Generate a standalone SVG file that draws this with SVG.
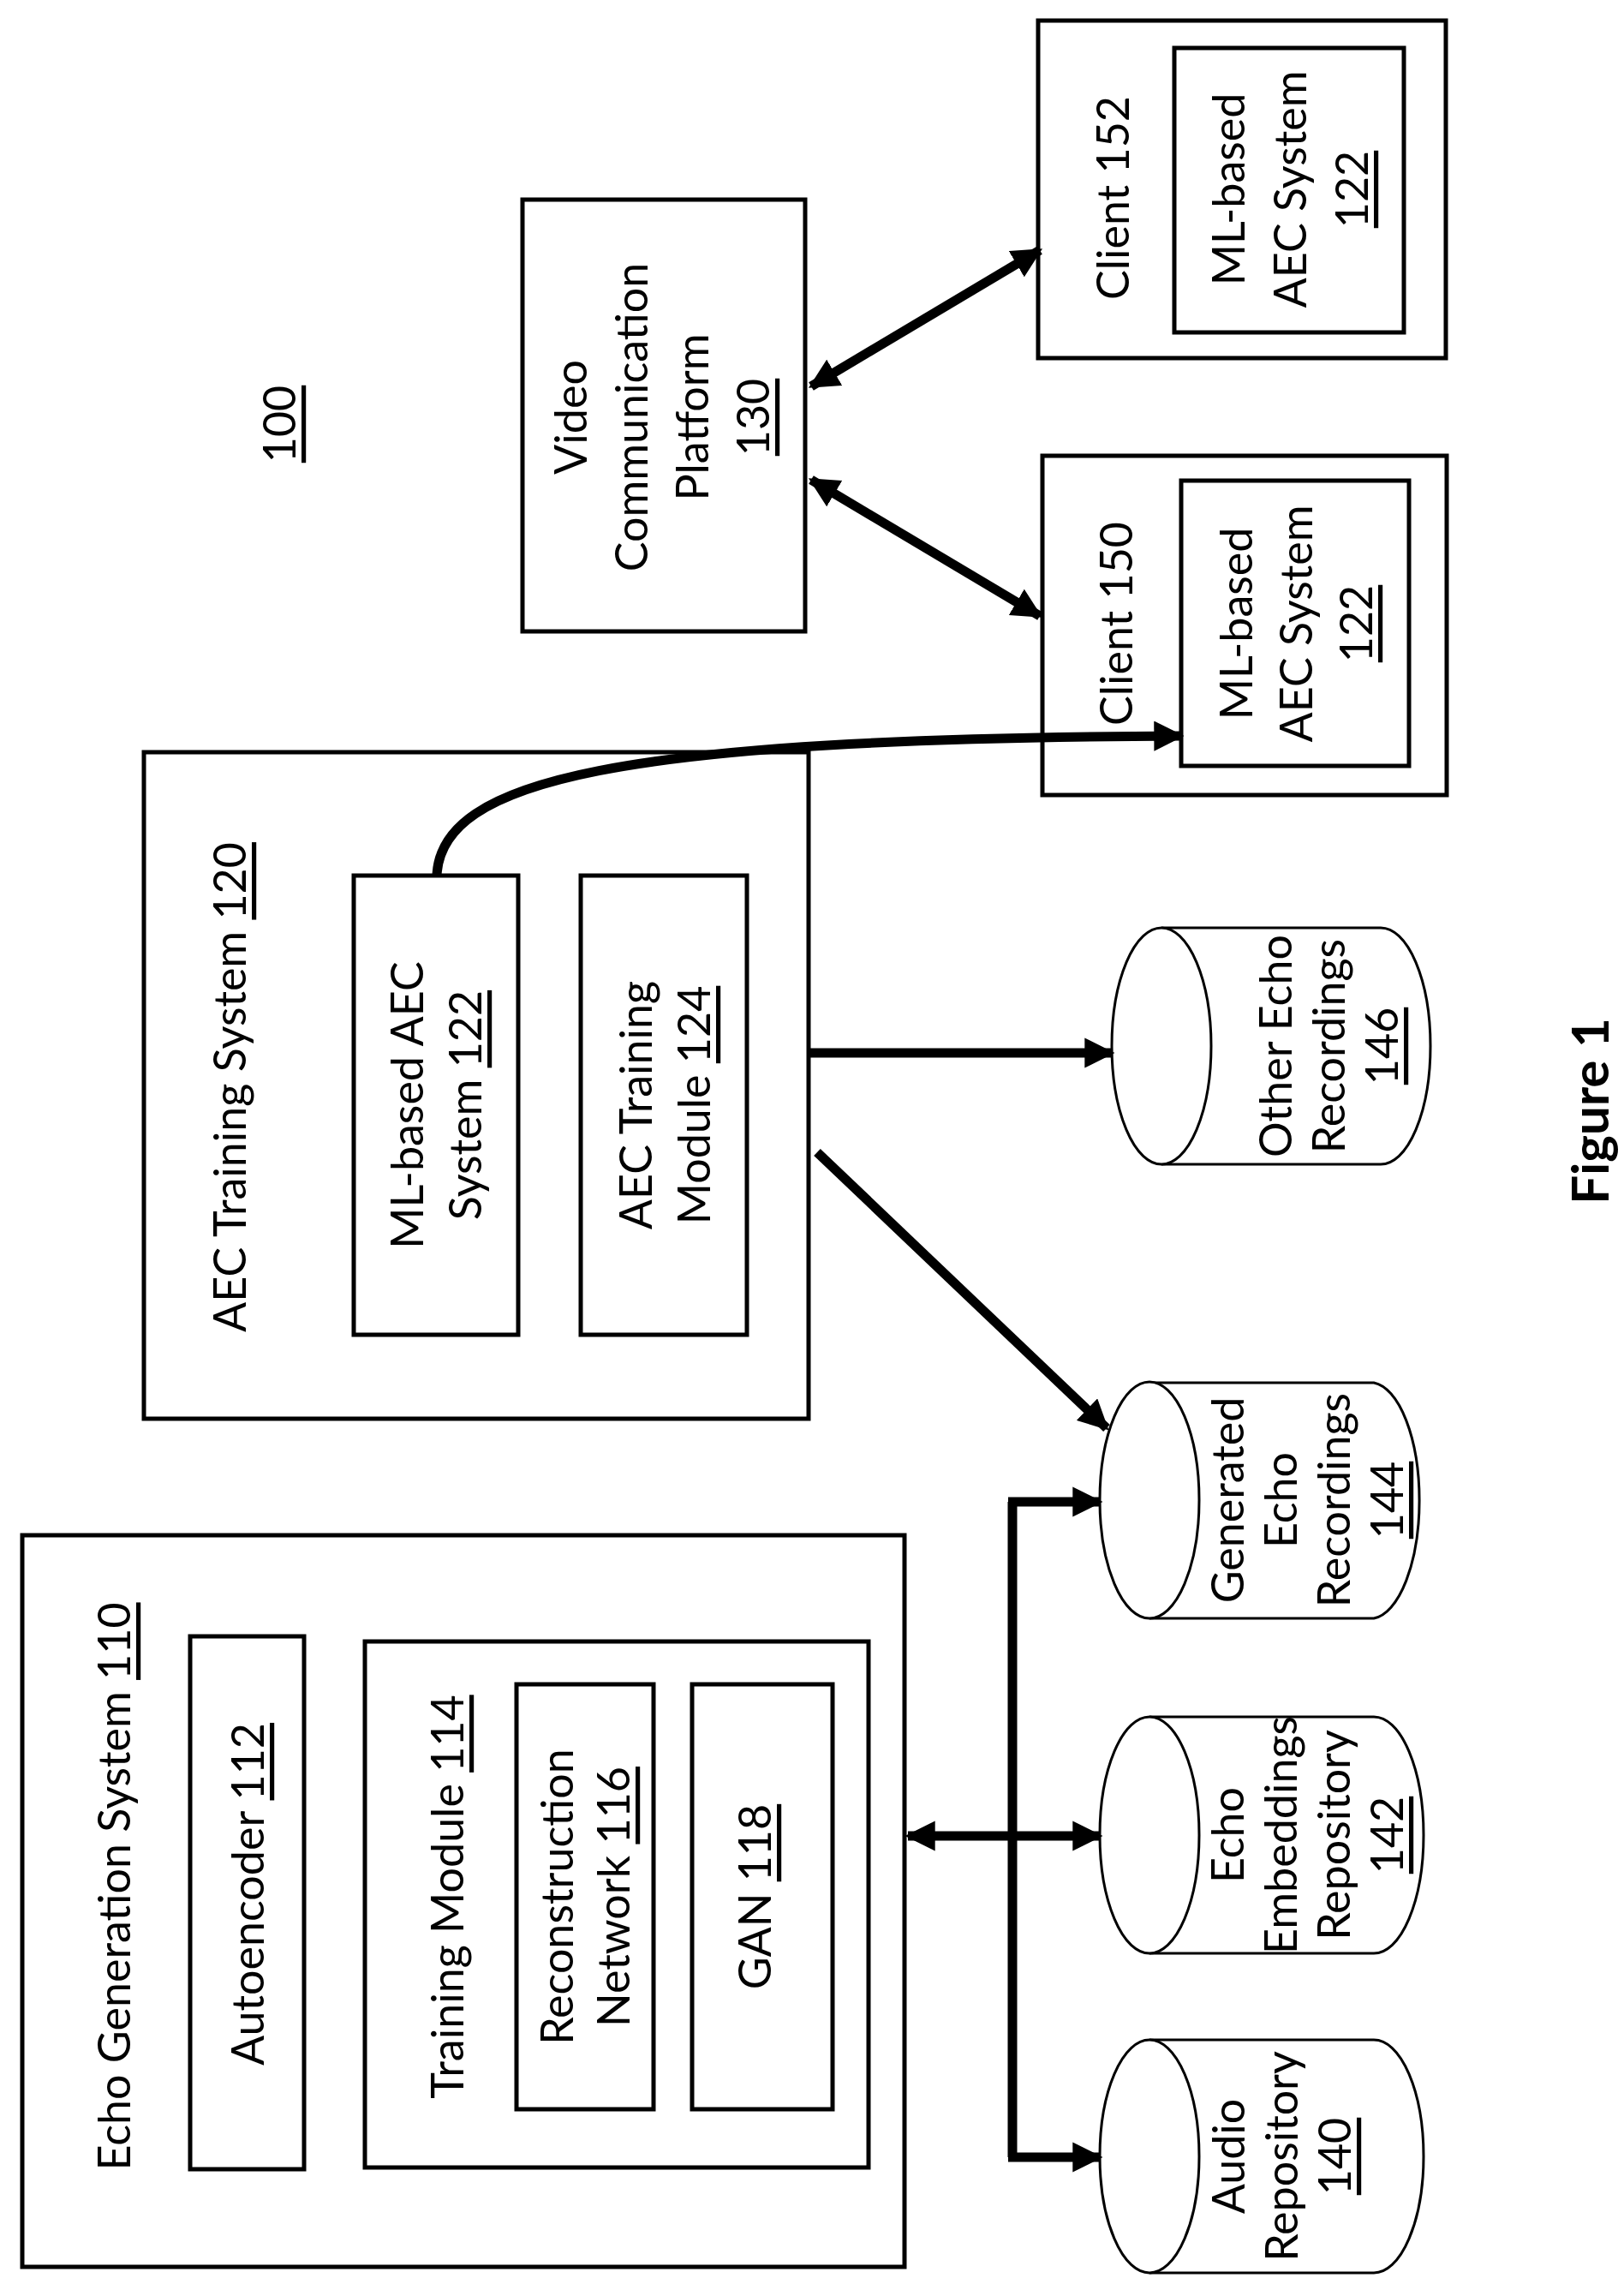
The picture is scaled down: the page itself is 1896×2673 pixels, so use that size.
<svg xmlns="http://www.w3.org/2000/svg" width="1896" height="2673" viewBox="0 0 1896 2673">
<style>
text{font-family:Lato,"Open Sans","Liberation Sans",sans-serif;font-size:52px;fill:#000;text-anchor:middle;dominant-baseline:central}
.box{fill:#fff;stroke:#000;stroke-width:5}
.cyl{fill:#fff;stroke:#000;stroke-width:3}
.con{fill:none;stroke:#000;stroke-width:11}
.u{text-decoration:underline}
</style>
<defs>
<marker id="ah" viewBox="0 0 10 10" refX="9" refY="5" markerWidth="3.2" markerHeight="3.2" orient="auto-start-reverse" markerUnits="strokeWidth"><path d="M0,0 L10,5 L0,10 Z" fill="#000"/></marker>
</defs>
<rect width="1896" height="2673" fill="#fff"/>

<g id="label100"><text transform="translate(325,495) rotate(-90)" class="u">100</text></g>

<g id="egs110">
<rect class="box" x="26" y="1792" width="1030" height="854"/>
<text transform="translate(132,2202) rotate(-90)">Echo Generation System <tspan class="u">110</tspan></text>
</g>
<g id="ae112">
<rect class="box" x="222" y="1910" width="133" height="622"/>
<text transform="translate(288,2211) rotate(-90)">Autoencoder <tspan class="u">112</tspan></text>
</g>
<g id="tm114">
<rect class="box" x="426" y="1916" width="588" height="614"/>
<text transform="translate(521,2214) rotate(-90)">Training Module <tspan class="u">114</tspan></text>
</g>
<g id="rn116">
<rect class="box" x="603" y="1966" width="160" height="496"/>
<text transform="translate(682,2214) rotate(-90)"><tspan x="0" dy="-33">Reconstruction</tspan><tspan x="0" dy="66">Network <tspan class="u">116</tspan></tspan></text>
</g>
<g id="gan118">
<rect class="box" x="808" y="1966" width="164" height="496"/>
<text transform="translate(880,2214) rotate(-90)">GAN <tspan class="u">118</tspan></text>
</g>

<g id="aec120">
<rect class="box" x="168" y="878" width="776" height="778"/>
<text transform="translate(267,1269) rotate(-90)">AEC Training System <tspan class="u">120</tspan></text>
</g>
<g id="ml122">
<rect class="box" x="413" y="1022" width="192" height="536"/>
<text transform="translate(508,1290) rotate(-90)"><tspan x="0" dy="-34">ML-based AEC</tspan><tspan x="0" dy="68">System <tspan class="u">122</tspan></tspan></text>
</g>
<g id="atm124">
<rect class="box" x="678" y="1022" width="194" height="536"/>
<text transform="translate(775,1290) rotate(-90)"><tspan x="0" dy="-34">AEC Training</tspan><tspan x="0" dy="68">Module <tspan class="u">124</tspan></tspan></text>
</g>

<g id="vcp130">
<rect class="box" x="610" y="233" width="330" height="504"/>
<text transform="translate(771,487) rotate(-90)"><tspan x="0" dy="-106">Video</tspan><tspan x="0" dy="71">Communication</tspan><tspan x="0" dy="71">Platform</tspan><tspan x="0" dy="71" class="u">130</tspan></text>
</g>

<g id="client152">
<rect class="box" x="1212" y="24" width="476" height="394"/>
<text transform="translate(1298,231) rotate(-90)">Client 152</text>
<rect class="box" x="1371" y="56" width="268" height="332"/>
<text transform="translate(1505,221) rotate(-90)"><tspan x="0" dy="-72">ML-based</tspan><tspan x="0" dy="72">AEC System</tspan><tspan x="0" dy="72" class="u">122</tspan></text>
</g>
<g id="client150">
<rect class="box" x="1217" y="532" width="472" height="396"/>
<text transform="translate(1302,728) rotate(-90)">Client 150</text>
<rect class="box" x="1379" y="561" width="266" height="333"/>
<text transform="translate(1512,728) rotate(-90)"><tspan x="0" dy="-70">ML-based</tspan><tspan x="0" dy="70">AEC System</tspan><tspan x="0" dy="70" class="u">122</tspan></text>
</g>

<g id="db146">
<path class="cyl" d="M1356,1083 H1612 A58 138 0 0 1 1612,1359 H1356"/>
<ellipse class="cyl" cx="1356" cy="1221" rx="58" ry="138"/>
<text transform="translate(1550,1221) rotate(-90)"><tspan x="0" dy="-62">Other Echo</tspan><tspan x="0" dy="62">Recordings</tspan><tspan x="0" dy="62" class="u">146</tspan></text>
</g>
<g id="db144">
<path class="cyl" d="M1342,1614 H1604 A58 138 0 0 1 1604,1889 H1342"/>
<ellipse class="cyl" cx="1342" cy="1751" rx="58" ry="138"/>
<text transform="translate(1525,1751) rotate(-90)"><tspan x="0" dy="-93">Generated</tspan><tspan x="0" dy="62">Echo</tspan><tspan x="0" dy="62">Recordings</tspan><tspan x="0" dy="62" class="u">144</tspan></text>
</g>
<g id="db142">
<path class="cyl" d="M1342,2004 H1604 A58 138 0 0 1 1604,2280 H1342"/>
<ellipse class="cyl" cx="1342" cy="2142" rx="58" ry="138"/>
<text transform="translate(1525,2142) rotate(-90)"><tspan x="0" dy="-93">Echo</tspan><tspan x="0" dy="62">Embeddings</tspan><tspan x="0" dy="62">Repository</tspan><tspan x="0" dy="62" class="u">142</tspan></text>
</g>
<g id="db140">
<path class="cyl" d="M1342,2381 H1604 A58 136 0 0 1 1604,2653 H1342"/>
<ellipse class="cyl" cx="1342" cy="2517" rx="58" ry="136"/>
<text transform="translate(1495,2517) rotate(-90)"><tspan x="0" dy="-62">Audio</tspan><tspan x="0" dy="62">Repository</tspan><tspan x="0" dy="62" class="u">140</tspan></text>
</g>

<g id="fig"><text transform="translate(1855,1297) rotate(-90)" style="font-weight:bold;font-size:60px">Figure 1</text></g>

<g id="connectors">
<path class="con" d="M1182,1753 V2518"/>
<path class="con" d="M1177,1753 H1284" marker-end="url(#ah)"/>
<path class="con" d="M1177,2518 H1284" marker-end="url(#ah)"/>
<path class="con" d="M1060,2143 H1284" marker-start="url(#ah)" marker-end="url(#ah)"/>
<path class="con" d="M944,1229 H1298" marker-end="url(#ah)"/>
<path class="con" d="M954,1345 L1292,1667" marker-end="url(#ah)"/>
<path class="con" d="M510,1022 C515,910 720,862 1379,859" marker-end="url(#ah)"/>
<path class="con" d="M947,451 L1214,292" marker-start="url(#ah)" marker-end="url(#ah)"/>
<path class="con" d="M947,560 L1214,719" marker-start="url(#ah)" marker-end="url(#ah)"/>
</g>
</svg>
